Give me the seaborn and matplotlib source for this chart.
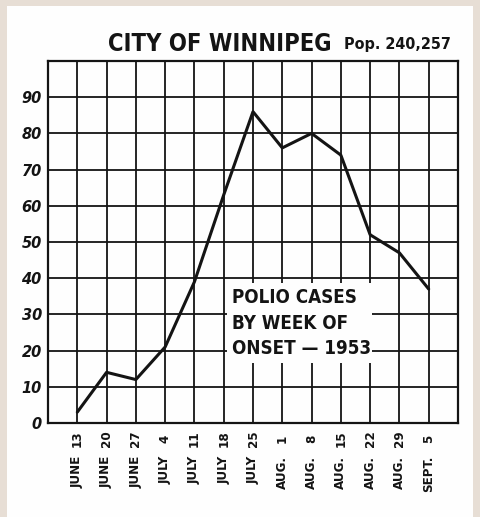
import matplotlib
matplotlib.use("Agg")
import matplotlib.pyplot as plt
from matplotlib.patches import Rectangle
from matplotlib.transforms import blended_transform_factory
import seaborn as sns
import pandas as pd

# Weekly polio case counts, Winnipeg 1953 (week of onset)
week_months = ["JUNE", "JUNE", "JUNE", "JULY", "JULY", "JULY", "JULY",
               "AUG.", "AUG.", "AUG.", "AUG.", "AUG.", "SEPT."]
week_days = ["13", "20", "27", "4", "11", "18", "25",
             "1", "8", "15", "22", "29", "5"]
cases = [3, 14, 12, 21, 39, 63, 86, 76, 80, 74, 52, 47, 37]
y_ticks = [0, 10, 20, 30, 40, 50, 60, 70, 80, 90]

title = "CITY OF WINNIPEG"
population = "Pop. 240,257"
note = "POLIO CASES\nBY WEEK OF\nONSET \u2014 1953"

INK = "#141414"
PAPER = "#fefefe"

sns.set_theme(style="white")
plt.rcParams["font.family"] = ["DejaVu Sans"]

df = pd.DataFrame({"week": range(len(cases)), "cases": cases})

fig = plt.figure(figsize=(4.8, 5.17), dpi=100)
fig.patch.set_facecolor("#e7ded5")
fig.add_artist(Rectangle((7 / 480, 0), 466 / 480, 511 / 517,
                         transform=fig.transFigure, facecolor=PAPER,
                         edgecolor="none", zorder=0))

ax = fig.add_axes([48 / 480, 94 / 517, 410 / 480, 362 / 517])
ax.set_facecolor(PAPER)

sns.lineplot(data=df, x="week", y="cases", ax=ax, color=INK,
             linewidth=2.2, zorder=5)

ax.set_xlim(-1, len(cases))
ax.set_ylim(0, 100)

# day numbers sit just under the axis, month names below them
ax.set_xticks(range(len(cases)))
ax.set_xticklabels(week_days, rotation=90, fontsize=9.5, fontweight="bold",
                   fontstretch="condensed", color=INK, va="center",
                   ha="center")
ax.tick_params(axis="x", length=0, pad=11.5)
xform = blended_transform_factory(ax.transData, ax.transAxes)
for i, month in enumerate(week_months):
    ax.text(i, -33 / 362, month, transform=xform, rotation=90,
            fontsize=9.5, fontweight="bold", fontstretch="condensed",
            color=INK, ha="center", va="top")

ax.set_yticks(y_ticks)
ax.set_yticklabels([str(v) for v in y_ticks], fontsize=10.5,
                   fontweight="bold", fontstyle="italic", color=INK)
ax.tick_params(axis="y", length=0, pad=4.5)
ax.set_xlabel("")
ax.set_ylabel("")

ax.grid(True, color=INK, linewidth=1.3, zorder=1)
ax.set_axisbelow(True)
for side in ax.spines.values():
    side.set_color(INK)
    side.set_linewidth(1.6)

# white panel behind the caption interrupts the grid
ax.add_patch(Rectangle((5.1, 16.6), 4.95, 22.1, facecolor=PAPER,
                       edgecolor="none", zorder=3))
ax.text(5.28, 27.6, note, fontsize=13.5, fontweight="bold",
        fontstretch="condensed", color=INK, ha="left", va="center",
        linespacing=1.45, zorder=4)

fig.text(220 / 480, 1 - 44 / 517, title, fontsize=17, fontweight="bold",
         fontstretch="condensed", color=INK, ha="center", va="center")
fig.text(397 / 480, 1 - 45 / 517, population, fontsize=11.5,
         fontweight="bold", fontstretch="condensed", color=INK,
         ha="center", va="center")

fig.savefig("out.png", dpi=100, facecolor=fig.get_facecolor())
